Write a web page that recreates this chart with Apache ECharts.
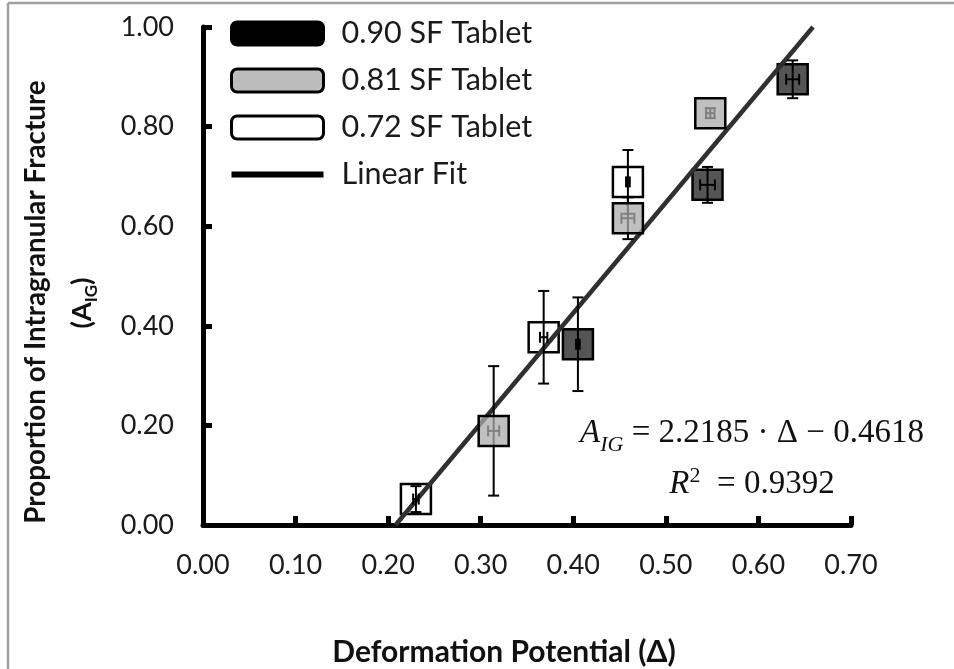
<!DOCTYPE html>
<html>
<head>
<meta charset="utf-8">
<script src="https://cdn.jsdelivr.net/npm/echarts@6/dist/echarts.min.js"></script>
<style>
html,body{margin:0;padding:0;background:#fff;}
#chart{width:954px;height:669px;}
</style>
</head>
<body>
<div id="chart"></div>
<script>
// ---- data ----
const sf90X = [0.405, 0.545, 0.637];
const sf90Y = [0.363, 0.683, 0.895];
const sf90XErr = [0.002, 0.008, 0.007];
const sf90YErr = [0.094, 0.036, 0.038];

const sf81X = [0.314, 0.459, 0.548];
const sf81Y = [0.189, 0.616, 0.827];
const sf81XErr = [0.006, 0.007, 0.0045];
const sf81YErr = [0.130, 0.042, 0.010];

const sf72X = [0.230, 0.368, 0.459];
const sf72Y = [0.052, 0.377, 0.689];
const sf72XErr = [0.003, 0.004, 0.002];
const sf72YErr = [0.026, 0.093, 0.064];

const fitX = [0.208, 0.659];
const fitY = [0.0, 1.0];

const seriesNames = ['0.90 SF Tablet', '0.81 SF Tablet', '0.72 SF Tablet', 'Linear Fit'];
const xTitle = 'Deformation Potential (\u0394)';
const yTitle1 = 'Proportion of Intragranular Fracture';
const eqLine1 = ' = 2.2185 \u00B7 \u0394 \u2212 0.4618';
const eqLine2 = '  = 0.9392';

const pts = (xs, ys) => xs.map((x, i) => [x, ys[i]]);
const errs = (xs, ys, ex, ey) => xs.map((x, i) => [x, ys[i], ex[i], ey[i]]);

const allErr = errs(sf90X, sf90Y, sf90XErr, sf90YErr)
  .concat(errs(sf81X, sf81Y, sf81XErr, sf81YErr))
  .concat(errs(sf72X, sf72Y, sf72XErr, sf72YErr));

const FONT = 'Lato';
const chart = echarts.init(document.getElementById('chart'), null, {renderer: 'canvas'});

function renderErr(params, api) {
  const x = api.value(0), y = api.value(1), ex = api.value(2), ey = api.value(3);
  const t = api.coord([x, y + ey]);
  const b = api.coord([x, y - ey]);
  const l = api.coord([x - ex, y]);
  const r = api.coord([x + ex, y]);
  const cap = 5.5;
  const st = {stroke: '#000', lineWidth: 2};
  const line = (x1, y1, x2, y2) => ({type: 'line', shape: {x1, y1, x2, y2}, style: st});
  return {
    type: 'group',
    children: [
      line(t[0], t[1], b[0], b[1]),
      line(t[0] - cap, t[1], t[0] + cap, t[1]),
      line(b[0] - cap, b[1], b[0] + cap, b[1]),
      line(l[0], l[1], r[0], r[1]),
      line(l[0], l[1] - cap, l[0], l[1] + cap),
      line(r[0], r[1] - cap, r[0], r[1] + cap)
    ]
  };
}

const option = {
  backgroundColor: '#fff',
  animation: false,
  grid: {left: 203, right: 103, top: 27, bottom: 144, containLabel: false},
  xAxis: {
    type: 'value', min: 0, max: 0.7, interval: 0.1,
    axisLine: {show: true, lineStyle: {color: '#000', width: 5}},
    axisTick: {show: true, inside: true, length: 9, lineStyle: {color: '#000', width: 5}},
    axisLabel: {margin: 27, fontFamily: FONT, fontSize: 27, color: '#1a1a1a',
      formatter: v => v.toFixed(2)},
    splitLine: {show: false}
  },
  yAxis: {
    type: 'value', min: 0, max: 1, interval: 0.2,
    axisLine: {show: true, lineStyle: {color: '#000', width: 5}},
    axisTick: {show: true, inside: true, length: 9, lineStyle: {color: '#000', width: 5}},
    axisLabel: {margin: 29, fontFamily: FONT, fontSize: 27, color: '#1a1a1a',
      formatter: v => v.toFixed(2)},
    splitLine: {show: false}
  },
  legend: {
    orient: 'vertical', left: 230, top: 18, padding: 0,
    itemWidth: 92, itemHeight: 23, itemGap: 16,
    selectedMode: false,
    textStyle: {fontFamily: FONT, fontSize: 30.5, color: '#1a1a1a', padding: [0, 0, 0, 13]},
    data: [
      {name: seriesNames[0], icon: 'roundRect', itemStyle: {color: '#000', borderColor: '#000', borderWidth: 3}},
      {name: seriesNames[1], icon: 'roundRect', itemStyle: {color: '#bcbcbc', borderColor: '#000', borderWidth: 3}},
      {name: seriesNames[2], icon: 'roundRect', itemStyle: {color: '#fff', borderColor: '#000', borderWidth: 3}},
      {name: seriesNames[3], icon: 'path://M0,0 L92,0 L92,6 L0,6 Z', itemStyle: {color: '#000', borderWidth: 0}}
    ]
  },
  series: [
    {
      name: seriesNames[0], type: 'scatter', z: 1,
      symbol: 'rect', symbolSize: 30,
      itemStyle: {color: '#555555', borderColor: '#000', borderWidth: 2.5, opacity: 1},
      data: pts(sf90X, sf90Y)
    },
    {
      name: seriesNames[2], type: 'scatter', z: 1,
      symbol: 'rect', symbolSize: 30,
      itemStyle: {color: '#ffffff', borderColor: '#000', borderWidth: 2.5, opacity: 1},
      data: pts(sf72X, sf72Y)
    },
    {
      name: seriesNames[3], type: 'line', z: 2,
      symbol: 'none', showSymbol: false,
      lineStyle: {color: '#303030', width: 4.5},
      itemStyle: {color: '#000'},
      data: pts(fitX, fitY)
    },
    {
      name: 'err', type: 'custom', z: 3,
      renderItem: renderErr,
      data: allErr
    },
    {
      name: seriesNames[1], type: 'scatter', z: 4,
      symbol: 'rect', symbolSize: 30,
      itemStyle: {color: 'rgba(171,171,171,0.75)', borderColor: '#000', borderWidth: 2.5, opacity: 1},
      data: pts(sf81X, sf81Y)
    }
  ],
  graphic: [
    {type: 'line', shape: {x1: 8, y1: 3, x2: 954, y2: 3}, style: {stroke: '#a0a0a0', lineWidth: 2.5}, silent: true},
    {type: 'line', shape: {x1: 8, y1: 3, x2: 8, y2: 669}, style: {stroke: '#a0a0a0', lineWidth: 2.5}, silent: true},
    {type: 'text', x: 504, y: 652, silent: true,
      style: {text: xTitle, fontFamily: FONT, fontWeight: 'bold', fontSize: 30, fill: '#111',
        textAlign: 'center', textVerticalAlign: 'middle'}},
    {type: 'text', x: 36, y: 302, rotation: Math.PI / 2, silent: true,
      style: {text: yTitle1, fontFamily: FONT, fontWeight: 'bold', fontSize: 27.8, fill: '#111',
        textAlign: 'center', textVerticalAlign: 'middle'}},
    {type: 'text', x: 80, y: 303, rotation: Math.PI / 2, silent: true,
      style: {text: '{m|(A}{s|IG}{m|)}', textAlign: 'center', textVerticalAlign: 'middle',
        rich: {
          m: {fontFamily: FONT, fontWeight: 'bold', fontSize: 27, fill: '#111', lineHeight: 32, verticalAlign: 'bottom'},
          s: {fontFamily: FONT, fontWeight: 'bold', fontSize: 17, fill: '#111', lineHeight: 32, verticalAlign: 'bottom', padding: [0, 0, -4, 0]}
        }}},
    {type: 'text', x: 752, y: 432, silent: true,
      style: {text: '{i|A}{s|IG}{n|' + eqLine1 + '}', textAlign: 'center', textVerticalAlign: 'middle',
        rich: {
          i: {fontFamily: 'Liberation Serif', fontStyle: 'italic', fontSize: 33, fill: '#111', lineHeight: 36, verticalAlign: 'bottom'},
          s: {fontFamily: 'Liberation Serif', fontStyle: 'italic', fontSize: 22, fill: '#111', lineHeight: 36, verticalAlign: 'bottom', padding: [0, 0, -6, 0]},
          n: {fontFamily: 'Liberation Serif', fontSize: 33, fill: '#111', lineHeight: 36, verticalAlign: 'bottom'}
        }}},
    {type: 'text', x: 752, y: 483, silent: true,
      style: {text: '{i|R}{p|2}{n|' + eqLine2 + '}', textAlign: 'center', textVerticalAlign: 'middle',
        rich: {
          i: {fontFamily: 'Liberation Serif', fontStyle: 'italic', fontSize: 33, fill: '#111', lineHeight: 36, verticalAlign: 'bottom'},
          p: {fontFamily: 'Liberation Serif', fontSize: 22, fill: '#111', lineHeight: 36, verticalAlign: 'top', padding: [0, 0, 8, 0]},
          n: {fontFamily: 'Liberation Serif', fontSize: 33, fill: '#111', lineHeight: 36, verticalAlign: 'bottom'}
        }}}
  ]
};
chart.setOption(option);
</script>
</body>
</html>
